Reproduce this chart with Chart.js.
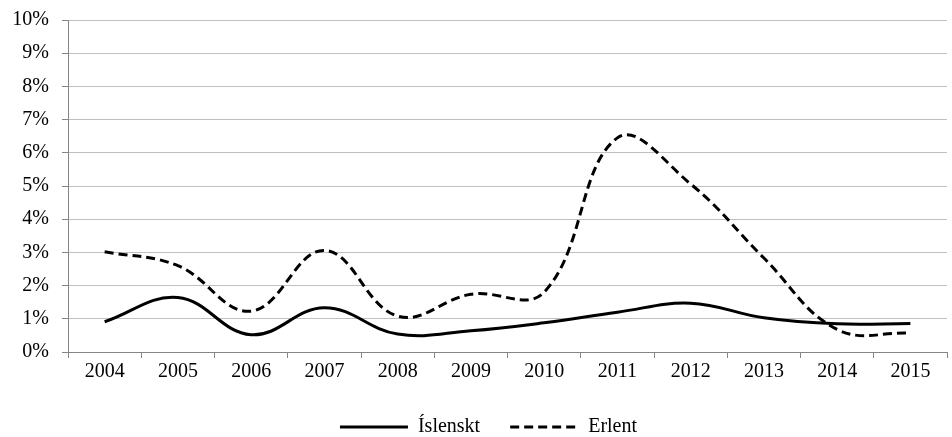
<!DOCTYPE html>
<html>
<head>
<meta charset="utf-8">
<script src="https://cdn.jsdelivr.net/npm/chart.js@4"></script>
<style>
  html, body { margin: 0; padding: 0; background: #fff; }
  #wrap { width: 952px; height: 437px; }
</style>
</head>
<body>
<div id="wrap"><canvas id="chart"></canvas></div>
<script>
// years on the x axis
const years = ["2004","2005","2006","2007","2008","2009","2010","2011","2012","2013","2014","2015"];
// shares in percent
const islenskt = [0.91, 1.64, 0.52, 1.33, 0.54, 0.64, 0.88, 1.20, 1.47, 1.03, 0.85, 0.86];
const erlent = [3.02, 2.60, 1.23, 3.06, 1.08, 1.74, 1.80, 6.45, 5.06, 2.83, 0.68, 0.57];
const yTicks = [0,1,2,3,4,5,6,7,8,9,10];

const font = { family: "'Liberation Serif', 'Times New Roman', serif", size: 20 };
const axisGray = "#868686";
const gridGray = "#c0c0c0";

Chart.defaults.font = font;
Chart.defaults.color = "#000";

// nudge the legend a bit right and down, like the original
const legendNudge = {
  id: "legendNudge",
  afterLayout(chart) {
    const lg = chart.legend;
    lg.left += 15; lg.right += 15;
    lg.top += 10; lg.bottom += 10;
  }
};

let chart = new Chart("chart", {
  type: "line",
  data: {
    labels: years,
    datasets: [
      {
        label: "Íslenskt",
        data: islenskt,
        borderColor: "#000",
        backgroundColor: "#000",
        borderWidth: 3,
        pointRadius: 0,
        tension: 0.4,
        fill: false
      },
      {
        label: "Erlent",
        data: erlent,
        borderColor: "#000",
        backgroundColor: "#000",
        borderWidth: 3,
        borderDash: [9, 5],
        pointRadius: 0,
        tension: 0.4,
        fill: false
      }
    ]
  },
  plugins: [legendNudge],
  options: {
    responsive: true,
    maintainAspectRatio: false,
    animation: false,
    layout: { padding: { top: 20, right: 5, left: 0, bottom: 0 } },
    plugins: {
      tooltip: { enabled: false },
      legend: {
        position: "bottom",
        labels: {
          usePointStyle: true,
          pointStyle: "line",
          pointStyleWidth: 68,
          boxHeight: 20,
          padding: 30,
          font: font,
          color: "#000",
          generateLabels: (ch) => ch.data.datasets.map((ds, i) => ({
            text: ds.label,
            datasetIndex: i,
            fillStyle: "#000",
            strokeStyle: "#000",
            fontColor: "#000",
            lineWidth: 3,
            lineDash: ds.borderDash || [],
            pointStyle: "line",
            hidden: false
          }))
        }
      }
    },
    scales: {
      x: {
        offset: true,
        grid: {
          offset: true,
          drawOnChartArea: false,
          drawTicks: true,
          tickLength: 6,
          tickColor: axisGray
        },
        border: { color: axisGray, width: 1 },
        ticks: { padding: 2, maxRotation: 0, font: font, color: "#000" },
        afterFit: (s) => { s.height = 25; s.paddingLeft = 0; s.paddingRight = 0; }
      },
      y: {
        min: 0,
        max: 10,
        afterBuildTicks: (s) => { s.ticks = yTicks.map(v => ({ value: v })); },
        grid: {
          color: gridGray,
          lineWidth: 1,
          tickLength: 6,
          tickColor: axisGray
        },
        border: { color: axisGray, width: 1 },
        ticks: {
          padding: 13,
          font: font,
          color: "#000",
          callback: (v) => v + "%"
        },
        afterFit: (s) => { s.width = 68; s.paddingTop = 0; s.paddingBottom = 0; }
      }
    }
  }
});
</script>
</body>
</html>
